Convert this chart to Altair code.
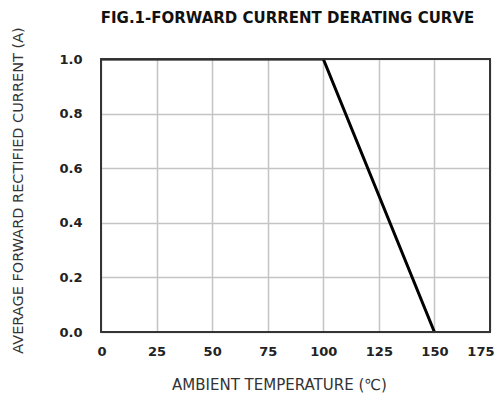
import altair as alt
import pandas as pd

temps = [0, 100, 150]
current = [1.0, 1.0, 0.0]
x_ticks = [0, 25, 50, 75, 100, 125, 150, 175]
y_ticks = [0.0, 0.2, 0.4, 0.6, 0.8, 1.0]

df = pd.DataFrame({"temp": temps, "current": current})

font = "DejaVu Sans"
W, H = 389, 273

line = alt.Chart(df).mark_line(color="black", strokeWidth=3, clip=True).encode(
    x=alt.X("temp:Q",
            scale=alt.Scale(domain=[0, 175], nice=False, zero=False),
            axis=alt.Axis(values=x_ticks, title="AMBIENT TEMPERATURE (\u2103)",
                          format="d", tickSize=0, labelPadding=13, domain=False,
                          gridColor="#c4c4c4", gridWidth=1.5,
                          labelFont=font, labelFontSize=13, labelFontWeight="bold",
                          labelColor="#222", titleFont=font, titleFontSize=15,
                          titleFontWeight="normal", titleColor="#333",
                          titleX=178, titleY=45, titleLimit=400,
                          labelFlush=True, labelFlushOffset=4)),
    y=alt.Y("current:Q",
            scale=alt.Scale(domain=[0, 1.0], nice=False),
            axis=alt.Axis(values=y_ticks, title="AVERAGE FORWARD RECTIFIED CURRENT (A)",
                          format=".1f", tickSize=0, labelPadding=19, domain=False,
                          gridColor="#c4c4c4", gridWidth=1.5,
                          labelFont=font, labelFontSize=13, labelFontWeight="bold",
                          labelColor="#222", titleFont=font, titleFontSize=14.5,
                          titleFontWeight="normal", titleColor="#333",
                          titleX=-76, titleY=131, titleLimit=400, labelFlush=False)),
)

frame = alt.Chart(df).mark_rect(fill=None, stroke="#333", strokeWidth=1.5).encode(
    x=alt.value(0), x2=alt.value(W), y=alt.value(0), y2=alt.value(H)
)

chart = alt.layer(line, frame).properties(
    width=W,
    height=H,
    padding={"left": 93, "top": 51, "right": 6, "bottom": 63},
    autosize=alt.AutoSizeParams(type="none"),
    title=alt.TitleParams("FIG.1-FORWARD CURRENT DERATING CURVE", font=font,
                          fontSize=15, fontWeight="bold", color="#111",
                          offset=1, anchor="middle", dx=-8, limit=480),
).configure_view(stroke=None).configure(background="white")

chart.save("out.html", embed_options={"renderer": "svg", "actions": False})
